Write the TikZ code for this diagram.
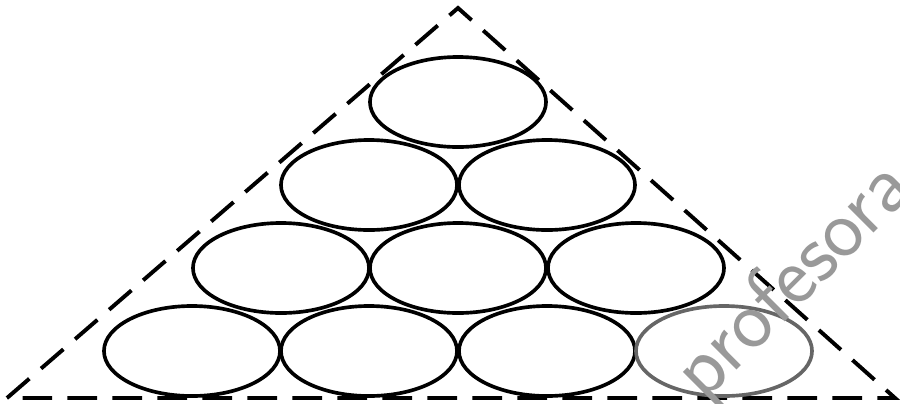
\documentclass[tikz,border=0pt]{standalone}
\usepackage{tikz}
\usetikzlibrary{shapes.geometric}

\begin{document}
\begin{tikzpicture}[
    x=0.025cm, y=-0.025cm,
    ball/.style={draw, ellipse, line width=2.6pt, inner sep=0pt, minimum width=4.4cm, minimum height=2.25cm},
    tri/.style={line width=2.8pt, dash pattern=on 21pt off 11pt},
    wmark/.style={text=black!40, rotate=45, font=\fontsize{60}{60}\selectfont\sffamily}
  ]
  \useasboundingbox (0,0) rectangle (900,403);

  % corners of the triangle
  \coordinate (L) at (7,398);
  \coordinate (T) at (458,8);
  \coordinate (R) at (895,398);
  \draw[tri] (L) -- (T) -- (R) -- cycle;

  % rows of ellipses, top to bottom
  \node[ball] (e1) at (458,102) {};
  \foreach \i/\x in {2/369, 3/547}
    \node[ball] (e\i) at (\x,185) {};
  \foreach \i/\x in {4/281, 5/458, 6/636}
    \node[ball] (e\i) at (\x,268) {};
  \foreach \i/\x in {7/192, 8/369, 9/547}
    \node[ball] (e\i) at (\x,351) {};
  \node[ball, draw=black!60] (e10) at (724,351) {};

  % watermark
  \node[wmark] (wm) at (795,282) {profesora};
\end{tikzpicture}
\end{document}
